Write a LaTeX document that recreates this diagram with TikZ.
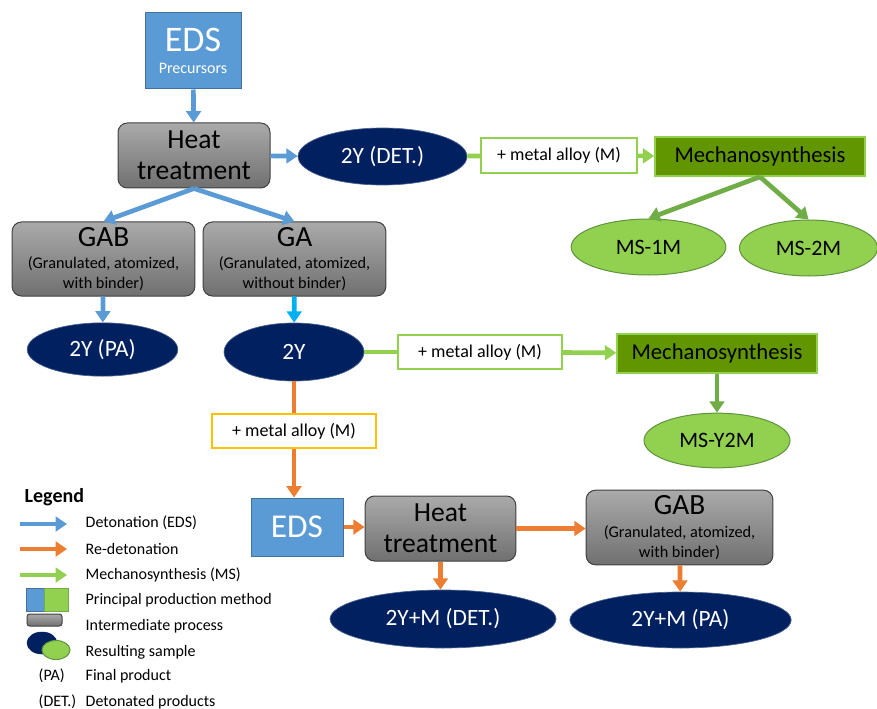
\documentclass[tikz,border=0pt]{standalone}
\usepackage{fontspec}
\setmainfont{Carlito}
\usetikzlibrary{shapes.geometric,arrows.meta}
\definecolor{edsblue}{RGB}{91,155,213}
\definecolor{edsline}{RGB}{65,113,156}
\definecolor{navy}{RGB}{0,32,96}
\definecolor{lgreen}{RGB}{146,208,80}
\definecolor{dgreen}{RGB}{112,173,71}
\definecolor{mgreen}{RGB}{98,150,0}
\definecolor{redet}{RGB}{237,125,49}
\definecolor{cyanarr}{RGB}{0,176,240}
\definecolor{gold}{RGB}{255,192,0}
\definecolor{gtop}{RGB}{170,170,170}
\definecolor{gbot}{RGB}{112,112,112}

\begin{document}
\begin{tikzpicture}[
    x=0.75pt, y=-0.75pt,
    edsbox/.style={rectangle, fill=edsblue, draw=edsline, line width=0.75pt, text=white, align=center, inner sep=0pt},
    procbox/.style={rectangle, rounded corners=7pt, top color=gtop, bottom color=gbot, draw=black!75, line width=0.75pt, align=center, inner sep=0pt},
    sample/.style={ellipse, fill=navy, draw=navy!70!white, line width=0.5pt, text=white, inner sep=0pt, font=\fontsize{17.5}{20}\selectfont},
    mssample/.style={ellipse, fill=lgreen, draw=dgreen!85!black, line width=0.75pt, inner sep=0pt, font=\fontsize{16.5}{19}\selectfont},
    mechbox/.style={rectangle, fill=mgreen, draw=lgreen, line width=1.2pt, inner sep=0pt, font=\fontsize{17}{20}\selectfont},
    addbox/.style={rectangle, fill=white, draw=lgreen, line width=1.2pt, inner sep=0pt, font=\fontsize{13.5}{16}\selectfont},
    tip/.style={-{Triangle[width=11pt,length=8.5pt]}},
    barrow/.style={draw=edsblue, line width=3.5pt, tip},
    garrow/.style={draw=lgreen, line width=3.5pt, tip},
    dgarrow/.style={draw=dgreen, line width=3.5pt, tip},
    oarrow/.style={draw=redet, line width=3.5pt, tip},
    gline/.style={draw=lgreen, line width=3.5pt},
    oline/.style={draw=redet, line width=3.5pt},
    legtxt/.style={anchor=west, font=\fontsize{12}{14}\selectfont},
]
\useasboundingbox (0,0) rectangle (877,709);

% first detonation
\node[edsbox, minimum width=72pt, minimum height=57pt] (eds1) at (193,51)
    {{\fontsize{27}{30}\selectfont EDS}\\[5pt]{\fontsize{12}{14}\selectfont Precursors}};
\node[procbox, minimum width=114pt, minimum height=48.75pt, font=\fontsize{20.7}{23.5}\selectfont] (ht1) at (194,155.5) {Heat\\treatment};
\node[sample, minimum width=126.75pt, minimum height=42.75pt] (det1) at (382.5,156.5) {2Y (DET.)};
\node[addbox, minimum width=117pt, minimum height=26.25pt] (add1) at (559,155.5) {+ metal alloy (M)};
\node[mechbox, minimum width=157.5pt, minimum height=29.25pt] (mech1) at (760,156.5) {Mechanosynthesis};
\node[mssample, minimum width=116pt, minimum height=42pt] (ms1) at (648.5,247) {MS-1M};
\node[mssample, minimum width=103.5pt, minimum height=42pt] (ms2) at (808.5,248) {MS-2M};

\node[procbox, minimum width=137pt, minimum height=55.5pt, font=\fontsize{12.2}{15}\selectfont] (gab1) at (103.5,259)
    {{\fontsize{22}{24}\selectfont GAB}\\[2pt](Granulated, atomized,\\with binder)};
\node[procbox, minimum width=137pt, minimum height=55.5pt, font=\fontsize{12.2}{15}\selectfont] (ga) at (294.5,259)
    {{\fontsize{22}{24}\selectfont GA}\\[2pt](Granulated, atomized,\\without binder)};
\node[sample, minimum width=113pt, minimum height=40pt] (pa1) at (102.5,349.5) {2Y (PA)};
\node[sample, minimum width=105pt, minimum height=43.5pt] (y2) at (294,352) {2Y};
\node[addbox, minimum width=123pt, minimum height=25.5pt] (add2) at (480,352) {+ metal alloy (M)};
\node[mechbox, minimum width=150pt, minimum height=29.25pt] (mech2) at (717,353.5) {Mechanosynthesis};
\node[mssample, minimum width=109.5pt, minimum height=41pt] (msy) at (717,440.5) {MS-Y2M};

% re-detonation
\node[addbox, draw=gold, minimum width=123pt, minimum height=25.5pt] (mix) at (294,431) {+ metal alloy (M)};
\node[edsbox, minimum width=69pt, minimum height=43.5pt, font=\fontsize{25}{28}\selectfont] (eds2) at (297,527) {EDS};
\node[procbox, minimum width=113pt, minimum height=48.75pt, font=\fontsize{20.7}{23.5}\selectfont] (ht2) at (440.5,528.5) {Heat\\treatment};
\node[procbox, minimum width=140pt, minimum height=56pt, font=\fontsize{12.2}{15}\selectfont] (gab2) at (679.5,527.5)
    {{\fontsize{22}{24}\selectfont GAB}\\[2pt](Granulated, atomized,\\with binder)};
\node[sample, minimum width=169.5pt, minimum height=43.5pt] (det2) at (443,619) {2Y+M (DET.)};
\node[sample, minimum width=166pt, minimum height=42pt] (pa2) at (680.5,620) {2Y+M (PA)};

\draw[barrow] (eds1) -- (ht1);
\draw[barrow] (ht1) -- (det1);
\draw[barrow] (ht1.south) -- (gab1.north);
\draw[barrow] (ht1.south) -- (ga.north);
\draw[gline] (det1) -- (add1);
\draw[garrow] (add1) -- (mech1);
\draw[dgarrow] (mech1.south) -- (ms1.north);
\draw[dgarrow] (mech1.south) -- (ms2.north);
\draw[barrow] (gab1) -- (pa1);
\draw[barrow, draw=cyanarr] (ga) -- (y2);
\draw[gline] (y2) -- (add2);
\draw[garrow] (add2) -- (mech2);
\draw[dgarrow] (mech2) -- (msy);
\draw[oline] (y2) -- (mix);
\draw[oarrow] (mix.south) -- (mix.south |- eds2.north);
\draw[oarrow] (eds2) -- (eds2 -| ht2.west);
\draw[oarrow] (ht2) -- (ht2 -| gab2.west);
\draw[oarrow] (ht2.south) -- (ht2.south |- det2.north);
\draw[oarrow] (gab2) -- (pa2);

% legend
\node[anchor=west, font=\bfseries\fontsize{15}{17}\selectfont] (leg) at (20,497) {Legend};
\coordinate (lb) at (20,524);
\coordinate (lo) at (20,549);
\coordinate (lg) at (20,575);
\draw[barrow, line width=3pt] (lb) -- ++(47,0);
\draw[oarrow, line width=3pt] (lo) -- ++(47,0);
\draw[garrow, line width=3pt] (lg) -- ++(47,0);
\draw[fill=edsblue, draw=edsline, line width=0.75pt] (26,588) rectangle (44,611);
\draw[fill=lgreen, draw=dgreen, line width=0.75pt] (44,588) rectangle (68,611);
\draw[top color=gtop, bottom color=gbot, draw=black!75, line width=0.75pt, rounded corners=2pt] (27,614) rectangle (62,626);
\draw[fill=navy, draw=navy] (42,643) ellipse [x radius=15, y radius=11];
\draw[fill=lgreen, draw=dgreen!85!black, line width=0.75pt] (56,650) ellipse [x radius=14, y radius=9.5];
\node[legtxt] (t1) at (81,523) {Detonation (EDS)};
\node[legtxt] (t2) at (81,549) {Re-detonation};
\node[legtxt] (t3) at (81,575) {Mechanosynthesis (MS)};
\node[legtxt] (t4) at (81,600) {Principal production method};
\node[legtxt] (t5) at (81,626) {Intermediate process};
\node[legtxt] (t6) at (81,652) {Resulting sample};
\node[legtxt] (p1) at (34,676) {(PA)};
\node[legtxt] (t7) at (81,676) {Final product};
\node[legtxt] (p2) at (34,702) {(DET.)};
\node[legtxt] (t8) at (81,702) {Detonated products};
\end{tikzpicture}
\end{document}
